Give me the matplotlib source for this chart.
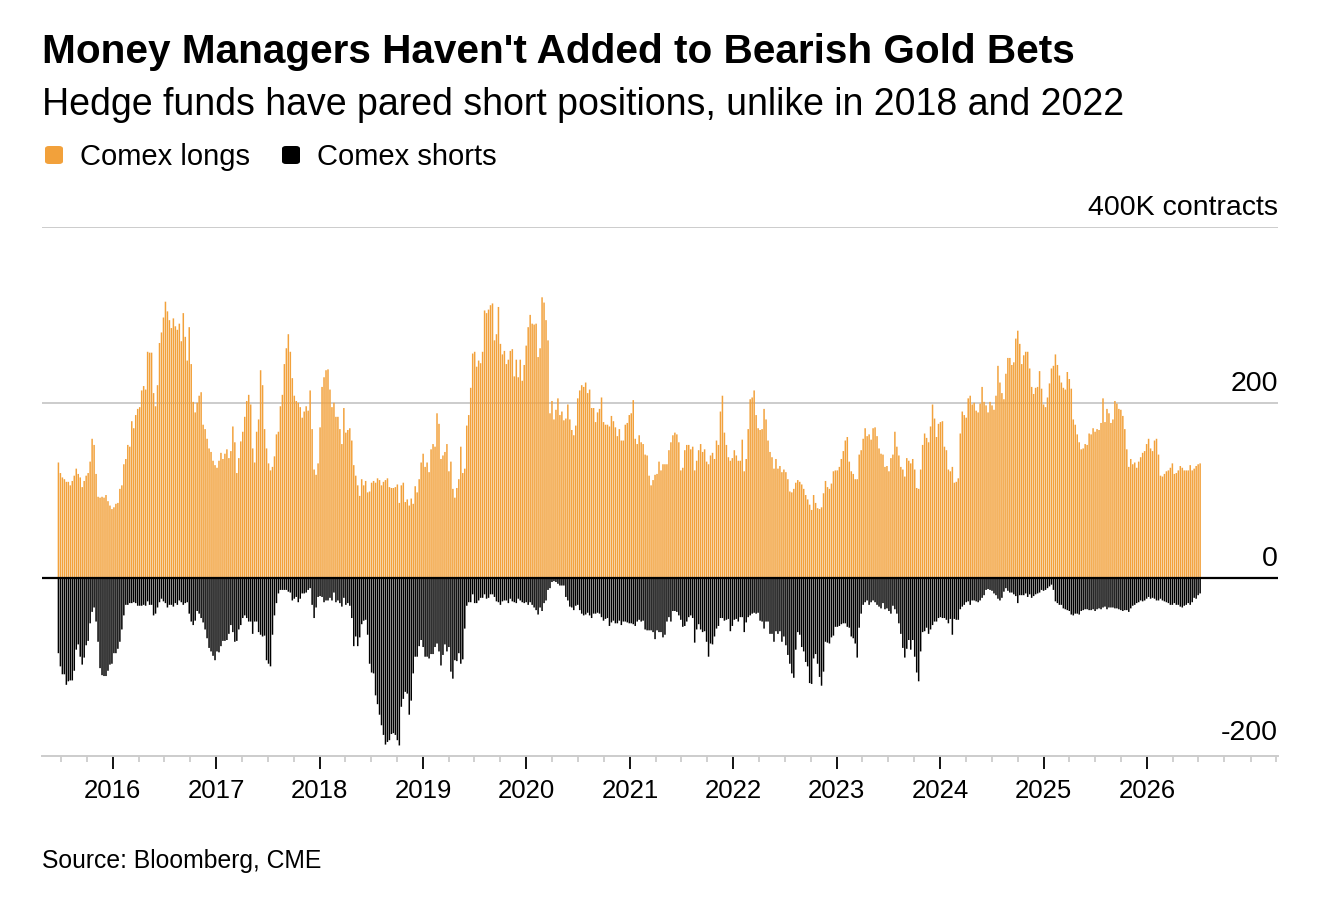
import matplotlib
matplotlib.use("Agg")
import matplotlib.pyplot as plt
import matplotlib.dates as mdates
from matplotlib.patches import FancyBboxPatch
from matplotlib.transforms import blended_transform_factory
import pandas as pd

# ---------------- data (thousand contracts, weekly) ----------------
first_week = "2015-06-23"

comex_longs = [
    132,120,115,113,110,110,106,111,117,125,119,115,104,111,117,120,133,159,152,119,
    93,92,93,92,95,88,83,79,81,85,86,102,106,130,136,152,150,179,171,186,
    193,195,214,219,215,258,257,257,211,196,220,268,280,297,315,304,294,
    285,296,287,283,290,270,302,275,248,286,244,201,189,200,208,212,175,170,159,148,
    144,134,129,126,134,143,136,142,147,137,145,173,155,120,137,156,167,184,202,209,
    198,148,132,167,181,237,220,170,148,131,123,127,139,164,167,196,209,244,262,278,
    258,228,208,202,200,195,183,190,196,191,214,170,124,118,131,172,218,229,237,238,
    215,195,200,184,184,170,153,194,166,169,171,157,129,117,106,94,113,106,111,98,
    99,109,111,109,114,112,106,110,112,114,104,103,103,104,107,86,106,109,87,90,83,
    91,85,105,98,113,132,142,127,132,121,147,153,150,188,176,136,140,144,153,122,
    133,102,92,103,113,150,120,125,174,186,217,256,258,241,248,245,258,305,302,306,
    311,313,271,278,309,267,255,259,244,249,259,261,230,249,229,249,225,243,265,286,
    300,290,289,290,252,262,320,314,294,271,188,202,181,192,205,186,190,180,182,198,
    181,169,163,174,205,214,220,218,223,211,215,194,194,178,189,193,206,178,175,175,
    173,185,179,172,162,170,157,157,175,177,186,188,203,159,153,163,155,153,141,140,117,
    106,112,118,119,133,123,130,130,130,146,155,163,166,164,155,123,126,146,152,152,
    147,150,123,134,146,153,144,147,133,130,140,143,136,157,152,190,208,166,152,138,
    134,137,146,140,134,134,158,122,136,170,204,206,214,186,171,169,170,193,181,157,
    144,138,125,136,125,128,121,124,121,113,99,98,102,109,112,110,107,102,95,90,
    84,78,95,86,80,79,81,97,111,104,102,108,122,123,123,127,136,145,157,161,
    133,122,119,113,113,141,146,159,171,162,164,158,171,172,162,148,142,141,127,128,
    122,137,141,167,150,140,127,124,116,137,134,131,136,124,103,102,124,152,165,160,
    155,173,198,182,161,176,178,179,150,146,124,122,127,109,110,114,165,190,186,183,
    205,208,198,200,191,189,199,218,201,197,189,201,197,192,208,242,223,211,204,233,
    251,251,243,246,273,282,267,244,254,258,258,239,218,210,217,218,236,216,198,195,
    206,222,239,242,255,243,231,223,217,215,235,227,216,181,175,164,155,147,148,153,
    152,165,164,171,167,170,169,177,205,178,193,188,177,181,202,199,193,192,185,170,
    147,127,136,130,132,126,133,138,143,145,153,159,148,145,157,159,141,117,116,119,
    122,123,126,131,119,120,123,128,126,123,123,123,129,123,125,128,130,131,
]

comex_shorts = [
    85,100,109,109,121,117,116,116,105,81,75,89,98,90,76,71,51,38,33,49,
    72,102,110,111,111,105,98,97,85,85,80,72,58,42,30,30,28,28,27,28,
    31,31,31,30,31,26,30,30,42,40,33,27,23,26,28,33,30,
    30,32,28,30,25,27,30,28,27,40,49,53,48,37,40,45,50,58,68,79,
    83,88,93,83,84,77,71,71,70,63,53,61,72,71,58,53,45,42,45,49,
    49,63,49,49,61,64,66,65,93,97,100,64,42,28,17,13,13,13,13,15,
    16,25,23,21,27,23,17,17,16,13,11,30,45,33,21,20,21,27,25,25,
    22,25,16,27,25,28,32,22,30,28,31,45,77,66,77,67,52,48,47,64,
    97,107,108,133,143,155,167,178,189,186,184,177,176,178,184,190,146,137,129,131,155,
    139,108,89,89,77,70,78,89,89,91,86,86,78,74,83,99,87,75,83,78,
    106,114,93,94,85,97,92,57,31,27,27,18,28,28,25,22,22,18,23,22,
    18,18,21,26,27,30,26,25,25,28,23,26,27,28,23,25,27,28,27,30,
    27,30,33,36,41,33,37,28,25,13,11,4,3,4,6,8,8,8,21,25,
    32,33,36,31,30,36,40,42,41,39,42,45,40,40,39,40,44,48,46,45,
    54,50,48,51,51,48,53,49,49,50,51,51,52,54,49,47,49,48,58,59,59,
    59,61,69,59,61,61,67,64,49,44,49,37,37,38,42,47,55,54,49,44,
    42,45,73,58,52,58,61,60,72,89,74,75,66,57,54,45,45,48,47,46,
    60,54,47,46,49,44,44,61,50,44,42,40,39,40,39,48,49,57,49,49,
    63,63,72,60,63,60,72,66,76,87,97,108,113,81,61,64,78,83,95,100,
    119,120,91,86,97,112,122,106,72,73,74,67,65,55,55,54,52,51,51,55,
    56,66,68,74,90,56,40,30,27,25,30,27,25,27,30,32,34,28,35,34,
    37,40,31,35,40,51,63,79,90,80,70,81,70,89,107,117,83,61,60,56,
    63,58,53,49,49,45,44,45,45,47,51,46,64,46,47,47,35,32,30,27,
    26,30,25,25,26,27,25,22,19,13,12,13,14,17,19,23,25,22,15,11,
    14,16,16,18,20,28,19,19,19,17,21,18,22,20,18,17,16,13,14,13,
    11,9,7,13,26,28,30,30,34,35,36,37,41,42,40,40,41,37,36,35,
    35,36,36,35,37,35,34,35,33,32,35,33,33,33,34,34,35,36,37,36,
    36,38,34,31,30,28,27,25,26,25,23,21,23,22,23,25,25,23,25,26,
    27,28,30,30,28,30,30,32,33,31,30,28,30,27,22,23,19,17,
]

y_ticks = [400, 200, 0, -200]
y_tick_labels = ["400K contracts", "200", "0", "-200"]
year_labels = list(range(2016, 2027))
series_names = ["Comex longs", "Comex shorts"]

# ---------------- style ----------------
W, H = 1326, 912
ORANGE = "#F2A13B"
BLACK = "#000000"
FONT = ["Liberation Sans", "DejaVu Sans"]
plt.rcParams["font.family"] = FONT

fig = plt.figure(figsize=(W / 100, H / 100), dpi=100)
fig.patch.set_facecolor("white")

def px(x, y):
    return x / W, 1 - y / H

ax = fig.add_axes([42 / W, 1 - 757 / H, (1278 - 42) / W, (757 - 228) / H])

dates = pd.date_range(first_week, periods=len(comex_longs), freq="7D")
shorts_neg = [-v for v in comex_shorts]

bl = ax.bar(dates, comex_longs, width=5.3, color=ORANGE, linewidth=0, zorder=2)
bs = ax.bar(dates, shorts_neg, width=5.3, color=BLACK, linewidth=0, zorder=2)
for p in list(bl) + list(bs):
    p.set_snap(False)
    p.set_antialiased(True)

ax.set_xlim(pd.Timestamp("2015-04-26"), pd.Timestamp("2027-04-08"))
ax.set_ylim(-202, 400)

# grid lines
for v in y_ticks:
    if v == 0:
        ax.axhline(0, color="black", lw=1.6, zorder=3)
    elif v > -200:
        ax.axhline(v, color="#cccccc", lw=1.4, zorder=1)

trans = blended_transform_factory(ax.transAxes, ax.transData)
for v, lab in zip(y_ticks, y_tick_labels):
    yy = v + 8 if v > -200 else v + 10
    ax.text(1.0, yy, lab, transform=trans, ha="right", va="bottom",
            fontsize=20.5, color="black")

for s in ["top", "right", "left"]:
    ax.spines[s].set_visible(False)
ax.spines["bottom"].set_color("#cccccc")
ax.spines["bottom"].set_linewidth(1.4)
ax.set_yticks([])

ax.set_xticks([pd.Timestamp(f"{y}-01-01") for y in year_labels])
ax.set_xticklabels([str(y) for y in year_labels])
ax.xaxis.set_minor_locator(mdates.MonthLocator(bymonth=[1, 4, 7, 10]))
ax.tick_params(axis="x", which="major", length=9, width=1.3, color="black",
               labelsize=18.5, pad=7)
ax.tick_params(axis="x", which="minor", length=4.5, width=1.2, color="#c8c8c8")
ax.set_facecolor("white")

# titles
fig.text(*px(42, 63), "Money Managers Haven't Added to Bearish Gold Bets",
         fontsize=29.2, fontweight="bold", va="baseline", ha="left")
fig.text(*px(42, 115), "Hedge funds have pared short positions, unlike in 2018 and 2022",
         fontsize=27, va="baseline", ha="left")

# legend
for (x0, name, col) in [(45, series_names[0], ORANGE), (282, series_names[1], BLACK)]:
    sx, sy = px(x0, 165)
    fig.patches.append(FancyBboxPatch((sx, sy), 18 / W, 18 / H,
                       boxstyle="round,pad=0,rounding_size=0.003",
                       transform=fig.transFigure, facecolor=col, edgecolor="none"))
    fig.text(*px(x0 + 35, 165), name, fontsize=21, va="baseline", ha="left")

fig.text(*px(42, 868), "Source: Bloomberg, CME", fontsize=17.8, va="baseline", ha="left")

fig.savefig("out.png", dpi=100, facecolor="white")
